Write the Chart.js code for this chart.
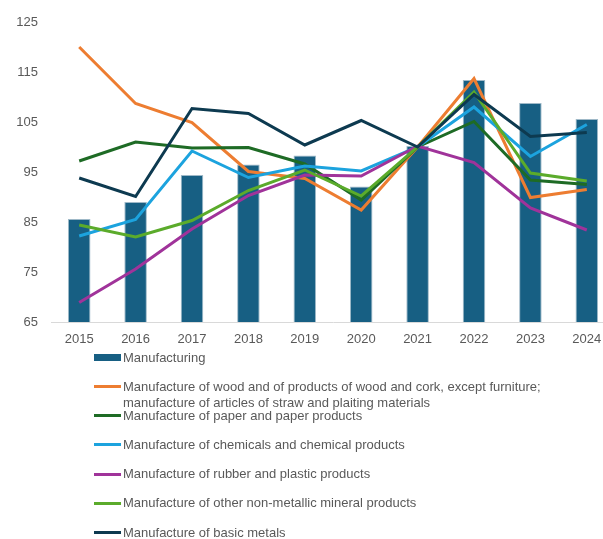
<!DOCTYPE html>
<html>
<head>
<meta charset="utf-8">
<script src="https://cdn.jsdelivr.net/npm/chart.js@4"></script>
<style>
  html, body { margin: 0; padding: 0; background: #fff; overflow: hidden; }
  #wrap { position: relative; width: 603px; height: 539px; overflow: hidden; }
  #box { position: absolute; left: 0; top: 0; width: 620px; height: 350px; }
  #legend { position: absolute; left: 0; top: 0; width: 603px; height: 539px; pointer-events: none;
            font-family: "Liberation Sans", Arial, sans-serif; font-size: 13px; color: #595959; }
  .item { position: absolute; left: 94px; }
  .swatch { position: absolute; left: 0; width: 27px; }
  .label { position: absolute; left: 29px; width: 460px; line-height: 15.6px; }
</style>
</head>
<body>
<div id="wrap">
  <div id="box"><canvas id="chart"></canvas></div>
  <div id="legend"></div>
</div>
<script>
// --- data ---
const years = ['2015', '2016', '2017', '2018', '2019', '2020', '2021', '2022', '2023', '2024'];
const yTicks = [65, 75, 85, 95, 105, 115, 125];

const manufacturing = [85.6, 89.0, 94.4, 96.5, 98.3, 92.1, 100.2, 113.4, 108.8, 105.6];
const wood          = [120.0, 108.7, 104.9, 95.1, 93.7, 87.4, 100.0, 113.7, 89.9, 91.5];
const paper         = [97.2, 101.0, 99.8, 99.9, 96.6, 89.4, 100.0, 105.1, 93.4, 92.5];
const chemicals     = [82.2, 85.5, 99.2, 93.9, 96.2, 95.2, 100.0, 108.0, 98.1, 104.5];
const rubber        = [68.9, 75.6, 83.6, 90.3, 94.4, 94.2, 100.2, 96.9, 87.8, 83.4];
const nonMetallic   = [84.4, 82.0, 85.3, 91.3, 95.4, 90.2, 100.0, 111.0, 94.8, 93.2];
const basicMetals   = [93.8, 90.1, 107.7, 106.7, 100.4, 105.3, 100.0, 110.5, 102.1, 102.9];

const seriesNames = [
    'Manufacturing',
    'Manufacture of wood and of products of wood and cork, except furniture; manufacture of articles of straw and plaiting materials',
    'Manufacture of paper and paper products',
    'Manufacture of chemicals and chemical products',
    'Manufacture of rubber and plastic products',
    'Manufacture of other non-metallic mineral products',
    'Manufacture of basic metals'
];
const lineColors = ['#ed7d31', '#1e6b25', '#1ca3de', '#a0339a', '#5bab2b', '#0d3a50'];
const barColor = '#175f83';

// --- chart ---
const lineSeries = [wood, paper, chemicals, rubber, nonMetallic, basicMetals];

const datasets = [{
    type: 'bar',
    label: seriesNames[0],
    data: manufacturing,
    backgroundColor: barColor,
    borderColor: '#9fb9c8',
    borderWidth: 1,
    barPercentage: 0.4,
    categoryPercentage: 1,
    order: 10
}];
lineSeries.forEach((vals, i) => {
    datasets.push({
        type: 'line',
        label: seriesNames[i + 1],
        data: vals,
        borderColor: lineColors[i],
        backgroundColor: lineColors[i],
        borderWidth: 3,
        pointRadius: 0,
        tension: 0,
        fill: false,
        order: 6 - i
    });
});

const tickFont = { family: '"Liberation Sans", Arial, sans-serif', size: 13 };

new Chart(document.getElementById('chart'), {
    data: { labels: years, datasets: datasets },
    options: {
        responsive: true,
        maintainAspectRatio: false,
        animation: false,
        layout: { padding: { top: 22, right: 5, left: 0, bottom: 0 } },
        plugins: { legend: { display: false }, tooltip: { enabled: false } },
        scales: {
            x: {
                grid: { display: false, drawTicks: false },
                border: { display: true, color: '#d9d9d9', width: 1 },
                ticks: { color: '#595959', font: tickFont, padding: 10, maxRotation: 0 },
                afterFit: s => { s.height = 28; }
            },
            y: {
                min: 65,
                max: 125,
                grid: { display: false, drawTicks: false },
                border: { display: false },
                afterBuildTicks: s => { s.ticks = yTicks.map(v => ({ value: v })); },
                ticks: { color: '#595959', font: tickFont, padding: 13 },
                afterFit: s => { s.width = 51; }
            }
        }
    }
});

// --- legend (html, real text) ---
const legendEl = document.getElementById('legend');
datasets.forEach((ds, i) => {
    const cy = 357.7 + i * 29.1;
    const item = document.createElement('div');
    item.className = 'item';
    item.style.top = (cy - 7.8) + 'px';

    const sw = document.createElement('div');
    sw.className = 'swatch';
    const h = ds.type === 'bar' ? 7 : 3;
    sw.style.height = h + 'px';
    sw.style.top = (7.8 - h / 2) + 'px';
    sw.style.background = ds.type === 'bar' ? barColor : ds.borderColor;

    const lb = document.createElement('div');
    lb.className = 'label';
    lb.textContent = ds.label;

    item.appendChild(sw);
    item.appendChild(lb);
    legendEl.appendChild(item);
});
</script>
</body>
</html>
